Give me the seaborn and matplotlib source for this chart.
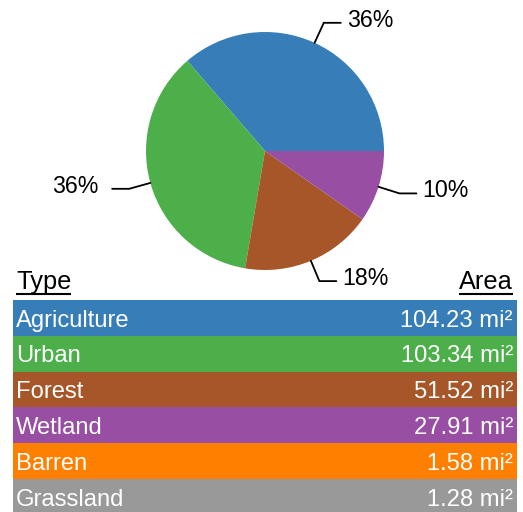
import numpy as np
import pandas as pd
import matplotlib
matplotlib.use("Agg")
import matplotlib.pyplot as plt
import seaborn as sns

# ---- data ----
types = ["Agriculture", "Urban", "Forest", "Wetland", "Barren", "Grassland"]
areas = [104.23, 103.34, 51.52, 27.91, 1.58, 1.28]
colors = ["#377eb8", "#4daf4a", "#a65628", "#984ea3", "#ff7f00", "#999999"]
header_left = "Type"
header_right = "Area"
unit = "mi²"

sns.set_style("white")
plt.rcParams["font.family"] = ["Liberation Sans", "DejaVu Sans"]

W, H = 523, 512
fig = plt.figure(figsize=(W / 100, H / 100), dpi=100)
fig.patch.set_facecolor("white")

# main axes in pixel coordinates (y up)
ax = fig.add_axes([0, 0, 1, 1])
ax.set_xlim(0, W)
ax.set_ylim(0, H)
ax.axis("off")

def Y(py):
    return H - py

# ---- pie (categories with at least 1% share) ----
df = pd.DataFrame({"type": types, "area": areas, "color": colors})
share = df["area"] / df["area"].sum()
pie_df = df[share >= 0.01]

cx, cy, R = 265, Y(151), 119
wedges, _ = ax.pie(pie_df["area"], colors=pie_df["color"], startangle=0,
                   counterclock=True, center=(cx, cy), radius=R,
                   wedgeprops=dict(linewidth=0))
ax.set_xlim(0, W)
ax.set_ylim(0, H)

tot = pie_df["area"].sum()
for w, a in zip(wedges, pie_df["area"]):
    mid = np.deg2rad((w.theta1 + w.theta2) / 2)
    c, s = np.cos(mid), np.sin(mid)
    x0, y0 = cx + R * c, cy + R * s
    x1, y1 = cx + R * 1.185 * c, cy + R * 1.185 * s
    d = 1 if c >= 0 else -1
    x2 = x1 + d * 17
    ax.plot([x0, x1, x2], [y0, y1, y1], color="black", lw=1.3,
            solid_joinstyle="miter")
    pad = 6 if d > 0 else 14
    ax.text(x2 + d * pad, y1 + 2.5, f"{round(a / tot * 100):.0f}%",
            ha="left" if d > 0 else "right", va="center",
            fontsize=16.7, color="black")

# ---- header ----
t1 = ax.text(16, Y(289), header_left, ha="left", va="baseline",
             fontsize=18.3, color="black")
t2 = ax.text(513, Y(289), header_right, ha="right", va="baseline",
             fontsize=18.3, color="black")
fig.canvas.draw()
r = fig.canvas.get_renderer()
for t in (t1, t2):
    bb = t.get_window_extent(renderer=r)
    ax.plot([bb.x0, bb.x1], [Y(294.3), Y(294.3)], color="black", lw=1.5,
            solid_capstyle="butt")

# ---- table rows via seaborn barplot ----
row_h = 35.8
top = 300
n = len(types)
ax2 = fig.add_axes([13 / W, (H - (top + n * row_h)) / H, 504 / W, n * row_h / H])
df["full"] = 1.0
sns.barplot(data=df, x="full", y="type", hue="type", palette=colors,
            orient="h", width=1.0, legend=False, ax=ax2, saturation=1,
            linewidth=0)
ax2.set_xlim(0, 1)
ax2.set_ylim(n - 0.5, -0.5)
ax2.axis("off")
tr = ax2.get_yaxis_transform()
for i, (t, a) in enumerate(zip(types, areas)):
    ax2.text(0.006, i + 0.245, t, transform=tr, ha="left", va="baseline",
             fontsize=17.1, color="white")
    ax2.text(0.992, i + 0.245, f"{a:.2f} {unit}", transform=tr, ha="right",
             va="baseline", fontsize=17.1, color="white")

fig.savefig("out.png", dpi=100, facecolor="white")
